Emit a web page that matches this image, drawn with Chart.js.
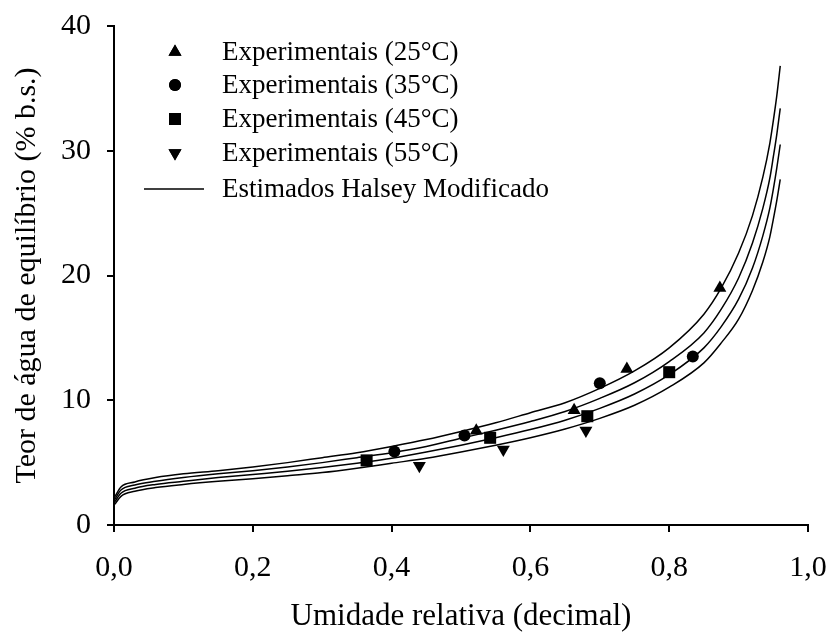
<!DOCTYPE html>
<html>
<head>
<meta charset="utf-8">
<script src="https://cdn.jsdelivr.net/npm/chart.js@4/dist/chart.umd.min.js"></script>
<style>
  html, body { margin: 0; padding: 0; background: #fff; }
  #wrap { width: 830px; height: 635px; }
</style>
</head>
<body>
<div id="wrap"><canvas id="chart" width="830" height="635"></canvas></div>
<script>
// umidade relativa (x) for the Halsey curves
const umidadeCurva = [0.001, 0.01, 0.03, 0.06, 0.1, 0.15, 0.2, 0.25, 0.3, 0.35, 0.4, 0.45, 0.5, 0.55,
  0.6, 0.65, 0.7, 0.75, 0.8, 0.85, 0.875, 0.9, 0.92, 0.935, 0.945, 0.95, 0.955, 0.96]
const halsey25 = [2.25, 3.05, 3.45, 3.8, 4.1, 4.35, 4.65, 5.0, 5.4, 5.8, 6.3, 6.85, 7.5, 8.2,
  9.0, 9.8, 10.95, 12.35, 14.2, 16.9, 19.0, 21.8, 24.8, 27.9, 30.6, 32.4, 34.4, 36.8]
const halsey35 = [2.05, 2.8, 3.2, 3.5, 3.8, 4.1, 4.35, 4.65, 5.0, 5.4, 5.8, 6.3, 6.95, 7.6,
  8.3, 9.1, 10.15, 11.4, 13.1, 15.4, 17.3, 19.8, 22.6, 25.4, 27.8, 29.5, 31.3, 33.4]
const halsey45 = [1.85, 2.55, 2.95, 3.25, 3.5, 3.8, 4.05, 4.3, 4.6, 4.95, 5.35, 5.85, 6.4, 7.0,
  7.65, 8.4, 9.35, 10.5, 12.05, 14.2, 15.9, 18.1, 20.6, 23.2, 25.4, 26.9, 28.6, 30.5]
const halsey55 = [1.65, 2.3, 2.7, 3.0, 3.25, 3.5, 3.7, 3.95, 4.2, 4.55, 4.95, 5.35, 5.85, 6.4,
  7.0, 7.7, 8.55, 9.6, 11.05, 13.0, 14.6, 16.5, 18.8, 21.1, 23.1, 24.5, 26.0, 27.7]

// experimental points
const ur25 = [0.522, 0.663, 0.739, 0.873]
const teor25 = [7.55, 9.2, 12.5, 19.0]
const ur35 = [0.404, 0.505, 0.700, 0.834]
const teor35 = [5.9, 7.17, 11.36, 13.5]
const ur45 = [0.364, 0.542, 0.682, 0.800]
const teor45 = [5.18, 6.99, 8.72, 12.25]
const ur55 = [0.440, 0.561, 0.680]
const teor55 = [4.75, 6.05, 7.57]

const xTicks = [0, 0.2, 0.4, 0.6, 0.8, 1.0]
const yTicks = [0, 10, 20, 30, 40]

const FONT = '"Liberation Serif", "Times New Roman", serif'

function pts(xs, ys){
    return xs.map((x, i) => ({x: x, y: ys[i]}))
}

function pointSet(label, xs, ys, style, rot, radius){
    return {
        label: label,
        type: 'scatter',
        data: pts(xs, ys),
        pointStyle: style,
        rotation: rot,
        pointRadius: radius,
        pointBackgroundColor: '#000',
        pointBorderColor: '#000',
        pointBorderWidth: 0,
        showLine: false,
        order: 0
    }
}

function curveSet(ys){
    return {
        label: 'Estimados Halsey Modificado',
        type: 'line',
        data: pts(umidadeCurva, ys),
        borderColor: '#000',
        borderWidth: 1.5,
        pointRadius: 0,
        fill: false,
        cubicInterpolationMode: 'monotone',
        order: 1
    }
}

// legend drawn inside the plot, one row per entry
const legendInside = {
    id: 'legendInside',
    afterDraw(chart){
        const ctx = chart.ctx
        const rows = [
            {ds: chart.data.datasets[0]},
            {ds: chart.data.datasets[1]},
            {ds: chart.data.datasets[2]},
            {ds: chart.data.datasets[3]},
            {ds: chart.data.datasets[4], line: true}
        ]
        const ys = [52, 85, 119, 153, 189]
        ctx.save()
        ctx.fillStyle = '#000'
        ctx.strokeStyle = '#000'
        ctx.font = '27px ' + FONT
        ctx.textBaseline = 'middle'
        rows.forEach((r, i) => {
            const y = ys[i]
            if (r.line){
                ctx.lineWidth = 1.5
                ctx.beginPath()
                ctx.moveTo(144, y)
                ctx.lineTo(204, y)
                ctx.stroke()
            } else {
                Chart.helpers.drawPoint(ctx, {
                    pointStyle: r.ds.pointStyle,
                    rotation: r.ds.rotation,
                    radius: r.ds.pointRadius,
                    borderWidth: 0
                }, 175, y)
                ctx.fill()
            }
            ctx.fillText(r.ds.label, 222, y + 1)
        })
        ctx.restore()
    }
}

const canvas = document.getElementById('chart')
const ctx = canvas.getContext('2d')

new Chart(ctx, {
    data: {
        datasets: [
            pointSet('Experimentais (25°C)', ur25, teor25, 'triangle', 0, 7.5),
            pointSet('Experimentais (35°C)', ur35, teor35, 'circle', 0, 6),
            pointSet('Experimentais (45°C)', ur45, teor45, 'rect', 0, 8.5),
            pointSet('Experimentais (55°C)', ur55, teor55, 'triangle', 180, 7.5),
            curveSet(halsey25),
            curveSet(halsey35),
            curveSet(halsey45),
            curveSet(halsey55)
        ]
    },
    options: {
        responsive: false,
        animation: false,
        layout: {
            padding: {top: 26, right: 22, left: 0, bottom: 0}
        },
        plugins: {
            legend: {display: false},
            tooltip: {enabled: false}
        },
        scales: {
            x: {
                type: 'linear',
                min: 0,
                max: 1,
                afterBuildTicks: (scale) => { scale.ticks = xTicks.map(v => ({value: v})) },
                afterFit: (scale) => {
                    scale.height = 110
                    scale.paddingLeft = 0
                    scale.paddingRight = 0
                },
                border: {display: true, color: '#000', width: 2},
                grid: {display: true, drawOnChartArea: false, drawTicks: true, tickLength: 7, color: '#000', lineWidth: 2},
                ticks: {
                    color: '#000',
                    padding: 18,
                    font: {family: FONT, size: 30},
                    maxRotation: 0,
                    callback: (v) => v.toFixed(1).replace('.', ',')
                },
                title: {
                    display: true,
                    text: 'Umidade relativa (decimal)',
                    color: '#000',
                    font: {family: FONT, size: 31},
                    padding: {top: 0, bottom: 0}
                }
            },
            y: {
                type: 'linear',
                min: 0,
                max: 40,
                afterBuildTicks: (scale) => { scale.ticks = yTicks.map(v => ({value: v})) },
                afterFit: (scale) => {
                    scale.width = 114
                    scale.paddingTop = 0
                    scale.paddingBottom = 0
                },
                border: {display: true, color: '#000', width: 2},
                grid: {display: true, drawOnChartArea: false, drawTicks: true, tickLength: 7, color: '#000', lineWidth: 2},
                ticks: {
                    color: '#000',
                    padding: 16,
                    font: {family: FONT, size: 30},
                    callback: (v) => String(v)
                },
                title: {
                    display: true,
                    text: 'Teor de água de equilíbrio (% b.s.)',
                    color: '#000',
                    font: {family: FONT, size: 30},
                    padding: {top: 9, bottom: 0}
                }
            }
        }
    },
    plugins: [legendInside]
})
</script>
</body>
</html>
